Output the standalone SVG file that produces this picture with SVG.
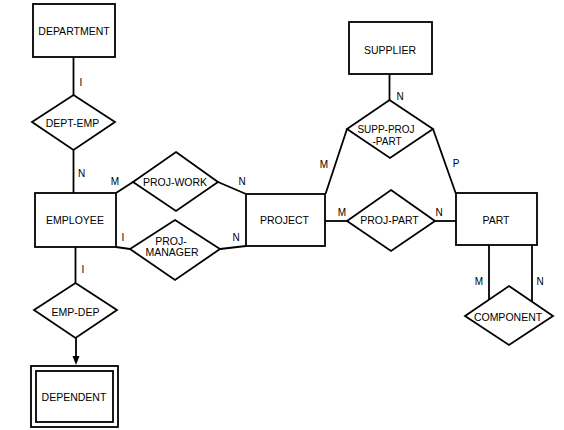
<svg xmlns="http://www.w3.org/2000/svg" width="564" height="430" viewBox="0 0 564 430">
<style>
.s{fill:none;stroke:#000;stroke-width:1.8;stroke-linejoin:miter}
.t{font-family:"Liberation Sans",Arial,sans-serif;font-size:10.5px;fill:#000;text-anchor:middle}
.l{font-family:"Liberation Sans",Arial,sans-serif;font-size:10px;fill:#000;text-anchor:middle}
</style>
<rect width="564" height="430" fill="#fff"/>
<g id="connectors">
<line class="s" x1="73.5" y1="57" x2="73.5" y2="95"/>
<line class="s" x1="73.5" y1="150" x2="73.5" y2="193"/>
<line class="s" x1="75.5" y1="247" x2="75.5" y2="283"/>
<line class="s" x1="76" y1="338" x2="76" y2="357"/>
<polygon points="76,365 72.5,356 79.5,356" fill="#000"/>
<polyline class="s" points="116,193 133,182"/>
<polyline class="s" points="218,182 246,194"/>
<polyline class="s" points="116,247 130,249"/>
<polyline class="s" points="220,249 246,246"/>
<line class="s" x1="389.5" y1="74" x2="389.5" y2="100"/>
<line class="s" x1="347" y1="129" x2="325.5" y2="194"/>
<line class="s" x1="433" y1="129" x2="456" y2="194"/>
<line class="s" x1="325" y1="221" x2="347" y2="221"/>
<line class="s" x1="435" y1="221" x2="456" y2="221"/>
<line class="s" x1="489" y1="245" x2="489" y2="299.6"/>
<line class="s" x1="532" y1="245" x2="532" y2="301.7"/>
<text class="l" x="81" y="85.5">I</text>
<text class="l" x="81.5" y="177">N</text>
<text class="l" x="115" y="185">M</text>
<text class="l" x="242" y="185">N</text>
<text class="l" x="123" y="241">I</text>
<text class="l" x="236" y="241">N</text>
<text class="l" x="83" y="273">I</text>
<text class="l" x="400" y="99.5">N</text>
<text class="l" x="324" y="168">M</text>
<text class="l" x="456" y="167">P</text>
<text class="l" x="342" y="215.5">M</text>
<text class="l" x="439" y="215.5">N</text>
<text class="l" x="479" y="285">M</text>
<text class="l" x="540" y="285">N</text>
</g>
<g id="department">
<rect class="s" x="33" y="4" width="82" height="53"/>
<text class="t" x="74" y="35">DEPARTMENT</text>
</g>
<g id="dept-emp">
<polygon class="s" points="73.5,95 115,122 73.5,150 32,122"/>
<text class="t" x="72.5" y="126.5">DEPT-EMP</text>
</g>
<g id="employee">
<rect class="s" x="35" y="193" width="81" height="54"/>
<text class="t" x="75" y="224">EMPLOYEE</text>
</g>
<g id="proj-work">
<polygon class="s" points="176,152 218,182 176,211 133,182"/>
<text class="t" x="175" y="186">PROJ-WORK</text>
</g>
<g id="proj-manager">
<polygon class="s" points="175,220 220,249 175,280 130,249"/>
<text class="t" x="171" y="245">PROJ-</text>
<text class="t" x="172" y="255.5">MANAGER</text>
</g>
<g id="emp-dep">
<polygon class="s" points="75.5,283 117,310 75.5,338 34,310"/>
<text class="t" x="75.5" y="315.5">EMP-DEP</text>
</g>
<g id="dependent">
<rect class="s" x="31" y="366" width="87" height="61"/>
<rect class="s" x="36" y="371" width="77" height="51"/>
<text class="t" x="74" y="400.5">DEPENDENT</text>
</g>
<g id="supplier">
<rect class="s" x="349" y="22" width="83" height="52"/>
<text class="t" x="390" y="54">SUPPLIER</text>
</g>
<g id="supp-proj-part">
<polygon class="s" points="389.5,100 433,129 390,158 347,129"/>
<text class="l" x="386" y="133">SUPP-PROJ</text>
<text class="l" x="387" y="144.5">-PART</text>
</g>
<g id="project">
<rect class="s" x="246" y="194" width="79" height="52"/>
<text class="t" x="284.5" y="224">PROJECT</text>
</g>
<g id="proj-part">
<polygon class="s" points="391,190 435,221 391,251 347,221"/>
<text class="t" x="389.5" y="224">PROJ-PART</text>
</g>
<g id="part">
<rect class="s" x="456" y="193" width="81" height="52"/>
<text class="t" x="496" y="224">PART</text>
</g>
<g id="component">
<polygon class="s" points="509,286 553,316 509,345 465,316"/>
<text class="t" x="508" y="320.5">COMPONENT</text>
</g>
</svg>
